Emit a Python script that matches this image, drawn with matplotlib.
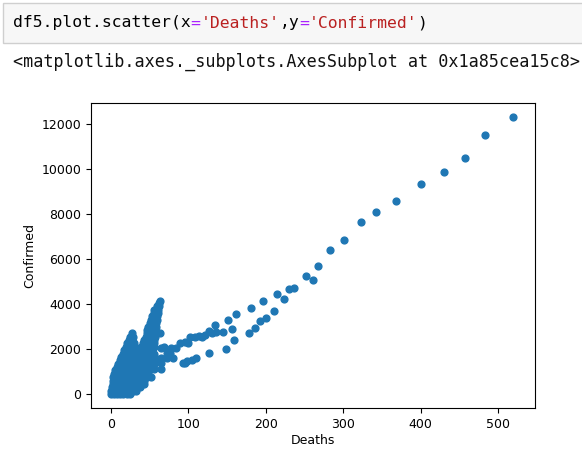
import matplotlib
matplotlib.use("Agg")
import matplotlib.pyplot as plt
from matplotlib.patches import Rectangle

# dense cluster near the origin, read row by row: (confirmed, deaths in that row)
cluster_rows = [
    (0, [0, 4, 8, 12, 16, 20, 24]),
    (150, [0, 4, 8, 12, 16, 20, 24, 28, 32]),
    (300, [1, 5, 9, 13, 17, 21, 25, 29, 33, 37]),
    (450, [2, 6, 10, 14, 18, 22, 26, 30, 34, 38, 42]),
    (600, [3, 7, 11, 15, 19, 23, 27, 31, 35, 39, 43]),
    (750, [3, 7, 11, 15, 19, 23, 27, 31, 35, 39, 43, 47]),
    (900, [4, 8, 12, 16, 20, 24, 28, 32, 36, 40, 44, 48]),
    (1050, [5, 9, 13, 17, 21, 25, 29, 33, 37, 41, 45, 49]),
    (1200, [7, 11, 15, 19, 23, 27, 31, 35, 39, 43, 47, 51]),
    (1350, [9, 13, 17, 21, 25, 29, 33, 37, 41, 45, 49, 53]),
    (1500, [11, 15, 19, 23, 27, 31, 35, 39, 43, 47, 51]),
    (1650, [13, 17, 21, 25, 29, 33, 37, 41, 45, 49, 53]),
    (1800, [15, 19, 23, 27, 31, 35, 39, 43, 47, 51, 55]),
    (1950, [17, 21, 25, 29, 33, 37, 41, 45, 49, 53]),
    (2100, [19, 23, 27, 31, 39, 43, 47, 51, 55]),
    (2250, [21, 25, 29, 41, 45, 49, 53, 55]),
    (2400, [23, 27, 43, 47, 51, 55]),
    (2550, [25, 28, 45, 49, 53, 57]),
    (2700, [27, 46, 50, 54, 58, 63]),
    (2850, [47, 51, 55, 57]),
    (3000, [48, 52, 56, 58]),
    (3150, [50, 54, 58]),
    (3300, [51, 55, 59]),
    (3450, [53, 57, 59]),
    (3600, [55, 58, 61]),
    (3750, [56, 60]),
    (3900, [59, 62]),
    (4050, [62]),
    (4120, [63]),
]

# the two longer strands running up to the right
strand_deaths = [
    117, 121, 127, 130, 134, 136, 145, 151, 156, 162, 181, 196, 214, 230,
    236, 252, 268, 283, 301, 323, 342, 368, 400, 431, 458, 484, 520,
    149, 159, 178, 186, 193, 200, 211, 223, 261,
    102, 108, 113, 89, 96, 100, 78, 84, 65, 68, 72, 76, 126,
    57, 65, 72, 80, 98, 104, 110, 50, 57, 64, 93, 96,
    46, 55, 64, 38, 44, 52,
]
strand_confirmed = [
    2548, 2640, 2815, 2696, 3052, 2741, 2756, 3304, 2874, 3570, 3807, 4119,
    4430, 4652, 4726, 5244, 5674, 6400, 6844, 7644, 8089, 8592, 9333, 9881,
    10504, 11511, 12325,
    2015, 2385, 2696, 2933, 3259, 3363, 3674, 4237, 5052,
    2519, 2519, 2560, 2252, 2300, 2252, 2030, 2030, 2030, 2100, 1807, 1807, 1807,
    1585, 1585, 1585, 1585, 1450, 1500, 1585, 1363, 1363, 1363, 1363, 1400,
    1111, 1111, 1111, 770, 770, 770,
]

code_parts = [
    ("df5.plot.scatter(x", "black"),
    ("=", "#aa22ff"),
    ("'Deaths'", "#ba2121"),
    (",y", "black"),
    ("=", "#aa22ff"),
    ("'Confirmed'", "#ba2121"),
    (")", "black"),
]
output_line = "<matplotlib.axes._subplots.AxesSubplot at 0x1a85cea15c8>"

deaths = [d for _, row in cluster_rows for d in row] + strand_deaths
confirmed = [c for c, row in cluster_rows for _ in row] + strand_confirmed

W, H, DPI = 582, 450, 100
fig = plt.figure(figsize=(W / DPI, H / DPI), dpi=DPI)
fig.patch.set_facecolor("white")

# notebook input cell
fig.patches.append(Rectangle((3 / W, 1 - 43 / H), 1.0, 40 / H, transform=fig.transFigure,
                             facecolor="#f7f7f7", edgecolor="#cfcfcf", linewidth=1))
mono = "DejaVu Sans Mono"
fs = 11.8
char_w = 0.6021 * fs * DPI / 72
x = 13
for txt, col in code_parts:
    fig.text(x / W, 1 - 23 / H, txt, family=mono, fontsize=fs, color=col, va="center", ha="left")
    x += len(txt) * char_w
fig.text(13 / W, 1 - 62 / H, output_line, family=mono, fontsize=12.1, color="#111111",
         va="center", ha="left")

ax = fig.add_axes([91 / W, 42 / H, 444 / W, 305 / H])
ax.scatter(deaths, confirmed, s=24, color="#1f77b4")
ax.set_xlim(-26, 548)
ax.set_ylim(-620, 12935)
ax.set_xticks([0, 100, 200, 300, 400, 500])
ax.set_yticks(range(0, 12001, 2000))
ax.tick_params(labelsize=9)
ax.set_xlabel("Deaths", fontsize=9, labelpad=2)
ax.set_ylabel("Confirmed", fontsize=9)

fig.savefig("out.png", dpi=DPI)
